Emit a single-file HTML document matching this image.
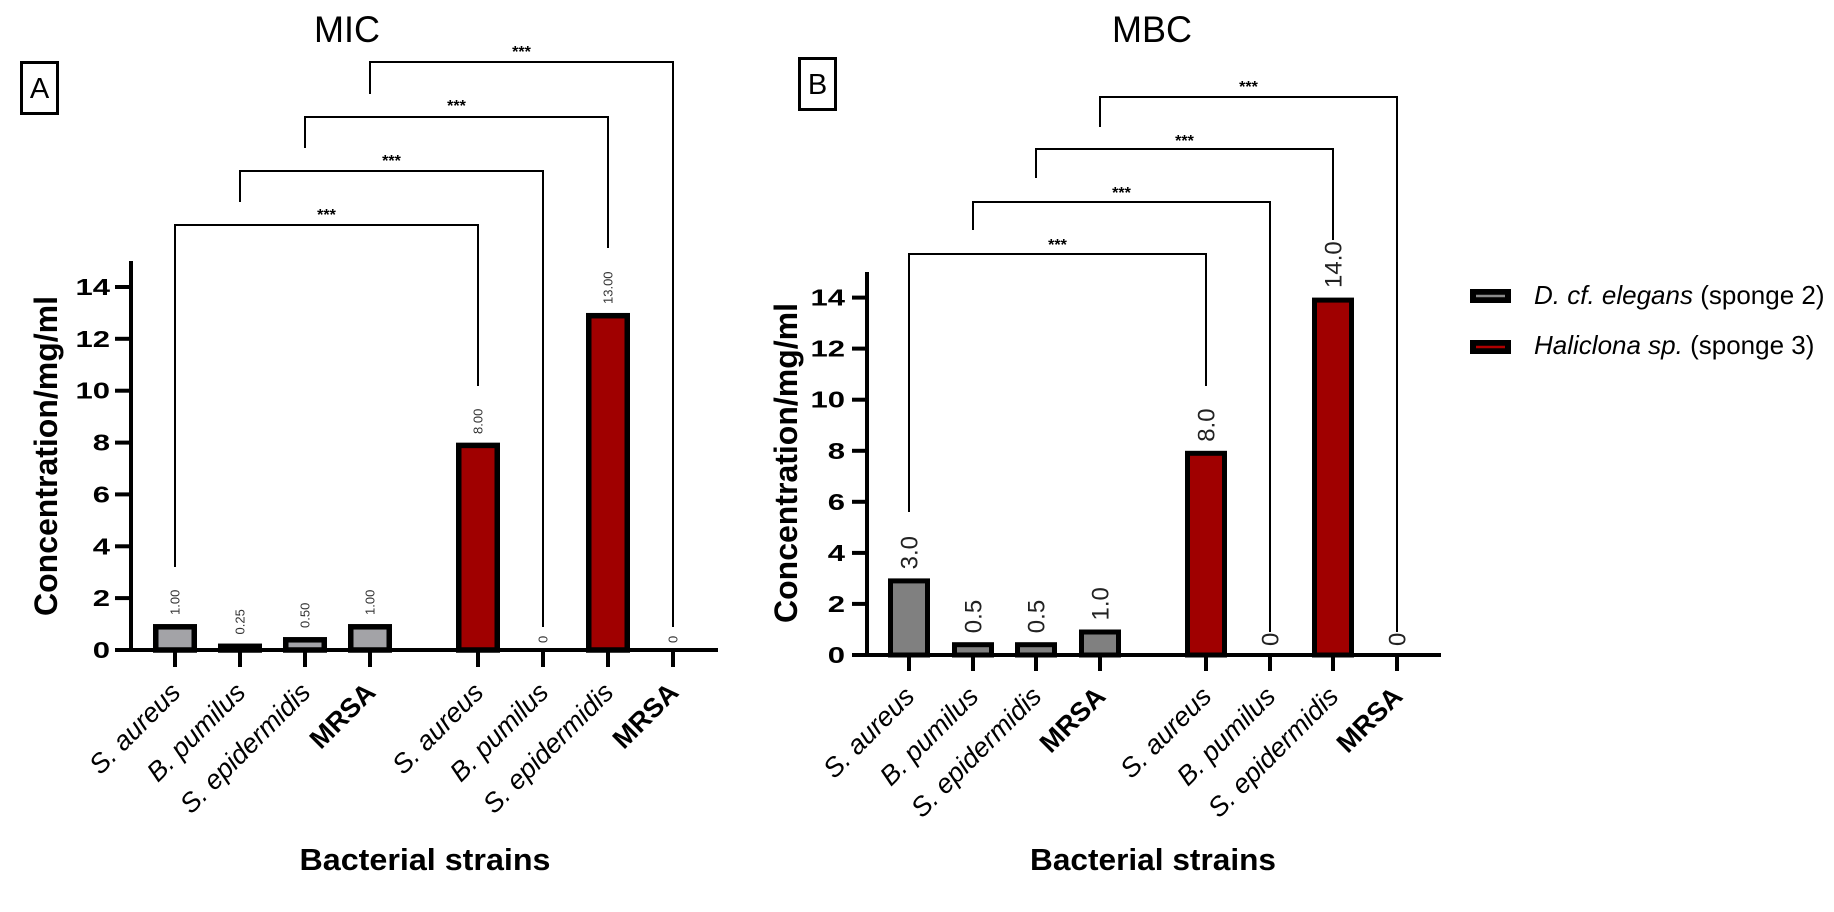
<!DOCTYPE html>
<html>
<head>
<meta charset="utf-8">
<style>
html,body{margin:0;padding:0;background:#fff;}
svg{display:block;}
text{font-family:"Liberation Sans",Arial,sans-serif;}
</style>
</head>
<body>
<svg width="1834" height="912" viewBox="0 0 1834 912" xmlns="http://www.w3.org/2000/svg">
<rect x="0" y="0" width="1834" height="912" fill="#fff"/>

<!-- ================= PANEL A ================= -->
<text x="347" y="42" font-size="37" text-anchor="middle" textLength="66" lengthAdjust="spacingAndGlyphs" fill="#000">MIC</text>
<rect x="21.5" y="62.5" width="36" height="51" fill="none" stroke="#000" stroke-width="3"/>
<text x="39.5" y="98" font-size="29" text-anchor="middle" fill="#000">A</text>

<!-- brackets A -->
<g fill="none" stroke="#000" stroke-width="2">
<path d="M175,567 V225 H478 V386"/>
<path d="M240,202 V171 H543 V627"/>
<path d="M305,148 V117 H608 V248"/>
<path d="M370,94 V62 H673 V627"/>
</g>
<g font-size="16" font-weight="bold" text-anchor="middle" fill="#000">
<text x="326.5" y="220">***</text>
<text x="391.5" y="166">***</text>
<text x="456.5" y="111">***</text>
<text x="521.5" y="57">***</text>
</g>

<!-- bars A -->
<g stroke="#000" stroke-width="5.5">
<rect x="155.75" y="626.8" width="38.5" height="23.2" fill="#a3a3a7"/>
<rect x="220.75" y="646.3" width="38.5" height="3.7" fill="#a3a3a7"/>
<rect x="285.75" y="639.8" width="38.5" height="10.2" fill="#a3a3a7"/>
<rect x="350.75" y="626.8" width="38.5" height="23.2" fill="#a3a3a7"/>
<rect x="458.75" y="445.4" width="38.5" height="204.6" fill="#a00000"/>
<rect x="588.75" y="315.7" width="38.5" height="334.3" fill="#a00000"/>
</g>

<!-- value labels A -->
<g font-size="13" fill="#333">
<text transform="translate(179.7,615) rotate(-90)">1.00</text>
<text transform="translate(244.7,634.5) rotate(-90)">0.25</text>
<text transform="translate(309.7,628) rotate(-90)">0.50</text>
<text transform="translate(374.7,615) rotate(-90)">1.00</text>
<text transform="translate(482.7,434) rotate(-90)">8.00</text>
<text transform="translate(547.7,643) rotate(-90)">0</text>
<text transform="translate(612.7,304) rotate(-90)">13.00</text>
<text transform="translate(677.7,643) rotate(-90)">0</text>
</g>

<!-- axes A -->
<g stroke="#000" stroke-width="4" fill="none">
<line x1="131" y1="261" x2="131" y2="652"/>
<line x1="115" y1="650" x2="718" y2="650"/>
<line x1="115" y1="598.1" x2="131" y2="598.1"/>
<line x1="115" y1="546.3" x2="131" y2="546.3"/>
<line x1="115" y1="494.4" x2="131" y2="494.4"/>
<line x1="115" y1="442.6" x2="131" y2="442.6"/>
<line x1="115" y1="390.7" x2="131" y2="390.7"/>
<line x1="115" y1="338.8" x2="131" y2="338.8"/>
<line x1="115" y1="287" x2="131" y2="287"/>
<line x1="175" y1="650" x2="175" y2="667"/>
<line x1="240" y1="650" x2="240" y2="667"/>
<line x1="305" y1="650" x2="305" y2="667"/>
<line x1="370" y1="650" x2="370" y2="667"/>
<line x1="478" y1="650" x2="478" y2="667"/>
<line x1="543" y1="650" x2="543" y2="667"/>
<line x1="608" y1="650" x2="608" y2="667"/>
<line x1="673" y1="650" x2="673" y2="667"/>
</g>
<g font-size="23" font-weight="bold" text-anchor="end" fill="#000">
<text transform="translate(110,658) scale(1.35,1)">0</text>
<text transform="translate(110,606.1) scale(1.35,1)">2</text>
<text transform="translate(110,554.3) scale(1.35,1)">4</text>
<text transform="translate(110,502.4) scale(1.35,1)">6</text>
<text transform="translate(110,450.6) scale(1.35,1)">8</text>
<text transform="translate(110,398.7) scale(1.35,1)">10</text>
<text transform="translate(110,346.8) scale(1.35,1)">12</text>
<text transform="translate(110,295) scale(1.35,1)">14</text>
</g>

<!-- category labels A -->
<g font-size="27" text-anchor="end" fill="#000">
<text transform="translate(182,694) rotate(-45)" font-style="italic">S. aureus</text>
<text transform="translate(247,694) rotate(-45)" font-style="italic">B. pumilus</text>
<text transform="translate(312,694) rotate(-45)" font-style="italic">S. epidermidis</text>
<text transform="translate(377,694) rotate(-45)" font-weight="bold">MRSA</text>
<text transform="translate(485,694) rotate(-45)" font-style="italic">S. aureus</text>
<text transform="translate(550,694) rotate(-45)" font-style="italic">B. pumilus</text>
<text transform="translate(615,694) rotate(-45)" font-style="italic">S. epidermidis</text>
<text transform="translate(680,694) rotate(-45)" font-weight="bold">MRSA</text>
</g>

<text transform="translate(57,456) rotate(-90)" font-size="32" font-weight="bold" text-anchor="middle" fill="#000">Concentration/mg/ml</text>
<text x="425" y="870" font-size="31" font-weight="bold" text-anchor="middle" textLength="251" lengthAdjust="spacingAndGlyphs" fill="#000">Bacterial strains</text>

<!-- ================= PANEL B ================= -->
<text x="1152" y="42" font-size="37" text-anchor="middle" textLength="80" lengthAdjust="spacingAndGlyphs" fill="#000">MBC</text>
<rect x="799.5" y="58.5" width="36" height="51" fill="none" stroke="#000" stroke-width="3"/>
<text x="817.5" y="94" font-size="29" text-anchor="middle" fill="#000">B</text>

<g fill="none" stroke="#000" stroke-width="2">
<path d="M909,512 V254 H1206 V386"/>
<path d="M973,230 V202 H1270 V632"/>
<path d="M1036,178 V149 H1333 V240"/>
<path d="M1100,127 V97 H1397 V632"/>
</g>
<g font-size="16" font-weight="bold" text-anchor="middle" fill="#000">
<text x="1057.5" y="250">***</text>
<text x="1121.5" y="198">***</text>
<text x="1184.5" y="146">***</text>
<text x="1248.5" y="92">***</text>
</g>

<g stroke="#000" stroke-width="5">
<rect x="890.5" y="580.9" width="37" height="74.1" fill="#808080"/>
<rect x="954.5" y="644.7" width="37" height="10.3" fill="#808080"/>
<rect x="1017.5" y="644.7" width="37" height="10.3" fill="#808080"/>
<rect x="1081.5" y="632" width="37" height="23" fill="#808080"/>
<rect x="1187.5" y="453.3" width="37" height="201.7" fill="#a00000"/>
<rect x="1314.5" y="300.1" width="37" height="354.9" fill="#a00000"/>
</g>

<g font-size="24" fill="#222">
<text transform="translate(917.6,569.4) rotate(-90)">3.0</text>
<text transform="translate(981.6,633.2) rotate(-90)">0.5</text>
<text transform="translate(1044.6,633.2) rotate(-90)">0.5</text>
<text transform="translate(1108.6,620.5) rotate(-90)">1.0</text>
<text transform="translate(1214.6,441.8) rotate(-90)">8.0</text>
<text transform="translate(1278.6,646) rotate(-90)">0</text>
<text transform="translate(1341.6,288) rotate(-90)">14.0</text>
<text transform="translate(1405.6,646) rotate(-90)">0</text>
</g>

<g stroke="#000" stroke-width="4" fill="none">
<line x1="867" y1="272" x2="867" y2="657"/>
<line x1="852" y1="655" x2="1441" y2="655"/>
<line x1="852" y1="603.9" x2="867" y2="603.9"/>
<line x1="852" y1="552.9" x2="867" y2="552.9"/>
<line x1="852" y1="501.8" x2="867" y2="501.8"/>
<line x1="852" y1="450.8" x2="867" y2="450.8"/>
<line x1="852" y1="399.7" x2="867" y2="399.7"/>
<line x1="852" y1="348.6" x2="867" y2="348.6"/>
<line x1="852" y1="297.6" x2="867" y2="297.6"/>
<line x1="909" y1="655" x2="909" y2="671"/>
<line x1="973" y1="655" x2="973" y2="671"/>
<line x1="1036" y1="655" x2="1036" y2="671"/>
<line x1="1100" y1="655" x2="1100" y2="671"/>
<line x1="1206" y1="655" x2="1206" y2="671"/>
<line x1="1270" y1="655" x2="1270" y2="671"/>
<line x1="1333" y1="655" x2="1333" y2="671"/>
<line x1="1397" y1="655" x2="1397" y2="671"/>
</g>
<g font-size="23" font-weight="bold" text-anchor="end" fill="#000">
<text transform="translate(845,663) scale(1.35,1)">0</text>
<text transform="translate(845,611.9) scale(1.35,1)">2</text>
<text transform="translate(845,560.9) scale(1.35,1)">4</text>
<text transform="translate(845,509.8) scale(1.35,1)">6</text>
<text transform="translate(845,458.8) scale(1.35,1)">8</text>
<text transform="translate(845,407.7) scale(1.35,1)">10</text>
<text transform="translate(845,356.6) scale(1.35,1)">12</text>
<text transform="translate(845,305.6) scale(1.35,1)">14</text>
</g>

<g font-size="27" text-anchor="end" fill="#000">
<text transform="translate(916,698) rotate(-45)" font-style="italic">S. aureus</text>
<text transform="translate(980,698) rotate(-45)" font-style="italic">B. pumilus</text>
<text transform="translate(1043,698) rotate(-45)" font-style="italic">S. epidermidis</text>
<text transform="translate(1107,698) rotate(-45)" font-weight="bold">MRSA</text>
<text transform="translate(1213,698) rotate(-45)" font-style="italic">S. aureus</text>
<text transform="translate(1277,698) rotate(-45)" font-style="italic">B. pumilus</text>
<text transform="translate(1340,698) rotate(-45)" font-style="italic">S. epidermidis</text>
<text transform="translate(1404,698) rotate(-45)" font-weight="bold">MRSA</text>
</g>

<text transform="translate(797,463) rotate(-90)" font-size="32" font-weight="bold" text-anchor="middle" fill="#000">Concentration/mg/ml</text>
<text x="1153" y="870" font-size="31" font-weight="bold" text-anchor="middle" textLength="246" lengthAdjust="spacingAndGlyphs" fill="#000">Bacterial strains</text>

<!-- ================= LEGEND ================= -->
<rect x="1470" y="289" width="41" height="14" fill="#000"/>
<line x1="1476" y1="296" x2="1505" y2="296" stroke="#8a8a8a" stroke-width="2.5"/>
<text x="1534" y="304" font-size="26" fill="#000"><tspan font-style="italic">D. cf. elegans</tspan> (sponge 2)</text>

<rect x="1470" y="340" width="41" height="14" fill="#000"/>
<line x1="1476" y1="347" x2="1505" y2="347" stroke="#b00000" stroke-width="2.5"/>
<text x="1534" y="354" font-size="26" fill="#000"><tspan font-style="italic">Haliclona sp.</tspan> (sponge 3)</text>
</svg>
</body>
</html>
